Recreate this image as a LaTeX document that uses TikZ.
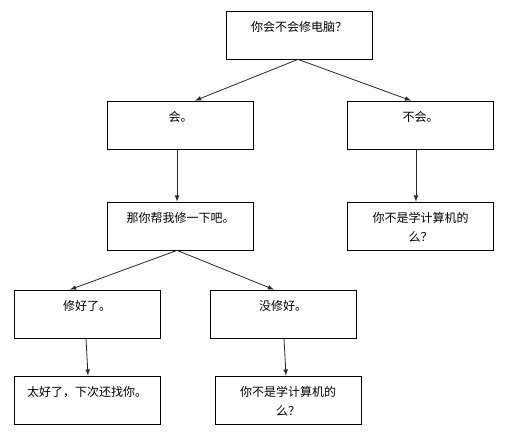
\documentclass[tikz,border=0pt]{standalone}
\usepackage{fontspec}
\newfontfamily\cjk{Noto Sans CJK SC}
\usetikzlibrary{arrows}
\tikzstyle{box} = [rectangle, minimum width=109.5pt, minimum height=36pt, inner sep=0pt, draw=black, line width=0.6pt]
\tikzstyle{boxtext} = [anchor=north, inner sep=0pt, align=center, font=\cjk\fontsize{9}{14.25}\selectfont]
\tikzstyle{arrow} = [line width=0.6pt, color=black!85, ->, >=latex]

\begin{document}
\begin{tikzpicture}[x=0.75pt, y=-0.75pt]
\useasboundingbox (0,0) rectangle (531,434);

\node at (299, 35) (q) [box] {};
\node at (180.5, 125) (yes) [box] {};
\node at (420.5, 125) (no) [box] {};
\node at (180.5, 226) (help) [box] {};
\node at (420.5, 226) (notcs) [box] {};
\node at (87, 314) (fixed) [box] {};
\node at (283, 314) (notfixed) [box] {};
\node at (87, 400) (thanks) [box] {};
\node at (288, 400) (notcs2) [box] {};

\node at ([yshift=-8pt]q.north) (q-t) [boxtext] {你会不会修电脑？};
\node at ([yshift=-8pt]yes.north) (yes-t) [boxtext] {会。};
\node at ([yshift=-8pt]no.north) (no-t) [boxtext] {不会。};
\node at ([yshift=-8pt]help.north) (help-t) [boxtext] {那你帮我修一下吧。};
\node at ([yshift=-8pt]notcs.north) (notcs-t) [boxtext] {你不是学计算机的\\么？};
\node at ([yshift=-8pt]fixed.north) (fixed-t) [boxtext] {修好了。};
\node at ([yshift=-8pt]notfixed.north) (notfixed-t) [boxtext] {没修好。};
\node at ([yshift=-8pt]thanks.north) (thanks-t) [boxtext] {太好了，下次还找你。};
\node at ([yshift=-8pt]notcs2.north) (notcs2-t) [boxtext] {你不是学计算机的\\么？};

\draw[arrow] ([xshift=-0.75pt]q.south) -- ([xshift=10.9pt]yes.north);
\draw[arrow] ([xshift=-0.75pt]q.south) -- ([xshift=-7.1pt]no.north);
\draw[arrow] ([xshift=-2.6pt]yes.south) -- ([xshift=-2.6pt]help.north);
\draw[arrow] ([xshift=-3.4pt]no.south) -- ([xshift=-3.4pt]notcs.north);
\draw[arrow] ([xshift=-2.6pt]help.south) -- ([xshift=-12.75pt]fixed.north);
\draw[arrow] ([xshift=-2.6pt]help.south) -- ([xshift=-6.75pt]notfixed.north);
\draw[arrow] ([xshift=-0.75pt]fixed.south) -- ([xshift=0.75pt]thanks.north);
\draw[arrow] ([xshift=0.75pt]notfixed.south) -- ([xshift=-1.5pt]notcs2.north);

\end{tikzpicture}
\end{document}
